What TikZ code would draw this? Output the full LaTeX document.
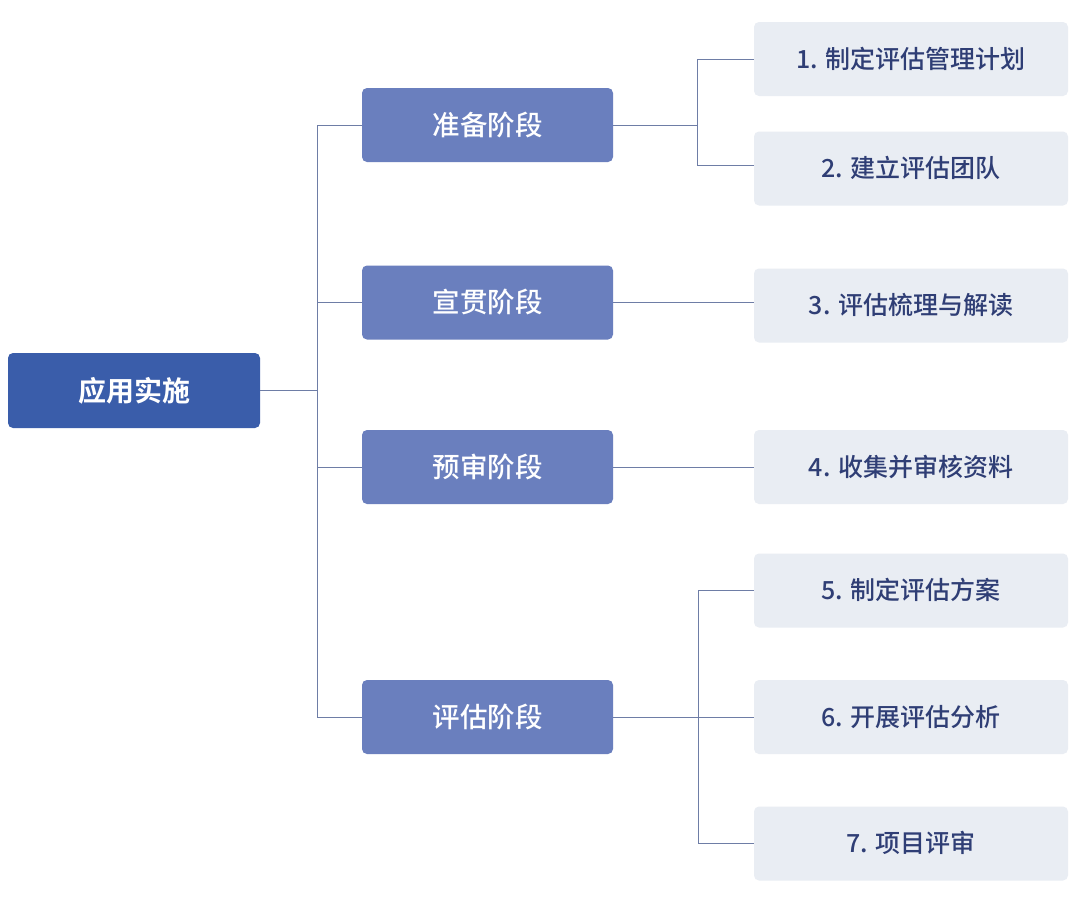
\documentclass[tikz,border=0pt]{standalone}
\usepackage{fontspec}
\setmainfont{Noto Sans CJK SC}[UprightFont=* Medium,BoldFont=* Bold]
\definecolor{rootc}{HTML}{3A5DAA}
\definecolor{stagec}{HTML}{6A7FBE}
\definecolor{leafc}{HTML}{E9EDF3}
\definecolor{leaftext}{HTML}{2F3E75}
\definecolor{linec}{HTML}{6E7DA6}
\newcommand\rt[1]{\raisebox{2.5pt}{#1}}
\begin{document}
\begin{tikzpicture}[x=1pt,y=-1pt,
  rootbox/.style={fill=rootc,rounded corners=5pt,minimum width=252pt,minimum height=75pt,inner sep=0pt,text=white,font=\fontsize{28}{32}\selectfont\bfseries},
  stagebox/.style={fill=stagec,rounded corners=5pt,minimum width=251pt,minimum height=74pt,inner sep=0pt,text=white,font=\fontsize{27.5}{32}\selectfont},
  leafbox/.style={fill=leafc,rounded corners=5pt,minimum width=314pt,minimum height=74pt,inner sep=0pt,text=leaftext,font=\fontsize{25}{30}\selectfont},
  conn/.style={draw=linec,line width=1pt}]
\fill[white] (0,0) rectangle (1080,902);
\useasboundingbox (0,0) rectangle (1080,902);
\node[rootbox] (root) at (134,390.5) {\rt{应用实施}};
\node[stagebox] (s1) at (487.5,125) {\rt{准备阶段}};
\node[stagebox] (s2) at (487.5,302.5) {\rt{宣贯阶段}};
\node[stagebox] (s3) at (487.5,467) {\rt{预审阶段}};
\node[stagebox] (s4) at (487.5,717) {\rt{评估阶段}};
\node[leafbox] (l1) at (911,59) {\rt{1. 制定评估管理计划}};
\node[leafbox] (l2) at (911,168.5) {\rt{2. 建立评估团队}};
\node[leafbox] (l3) at (911,305.5) {\rt{3. 评估梳理与解读}};
\node[leafbox] (l4) at (911,467) {\rt{4. 收集并审核资料}};
\node[leafbox] (l5) at (911,590.5) {\rt{5. 制定评估方案}};
\node[leafbox] (l6) at (911,717) {\rt{6. 开展评估分析}};
\node[leafbox] (l7) at (911,843.5) {\rt{7. 项目评审}};
\coordinate (t) at (317,390.5);
\coordinate (b1) at (697,125);
\coordinate (b4) at (698,717);
\draw[conn] (root.east) -- (t);
\draw[conn] (t) |- (s1.west);
\draw[conn] (t) |- (s2.west);
\draw[conn] (t) |- (s3.west);
\draw[conn] (t) |- (s4.west);
\draw[conn] (s1.east) -- (b1);
\draw[conn] (b1) |- (l1.west);
\draw[conn] (b1) |- ([yshift=3.5pt]l2.west);
\draw[conn] (s2.east) -- (l3.west |- s2.east);
\draw[conn] (s3.east) -- (l4.west);
\draw[conn] (s4.east) -- (b4);
\draw[conn] (b4) |- (l5.west);
\draw[conn] (b4) -- (l6.west);
\draw[conn] (b4) |- (l7.west);
\end{tikzpicture}
\end{document}
